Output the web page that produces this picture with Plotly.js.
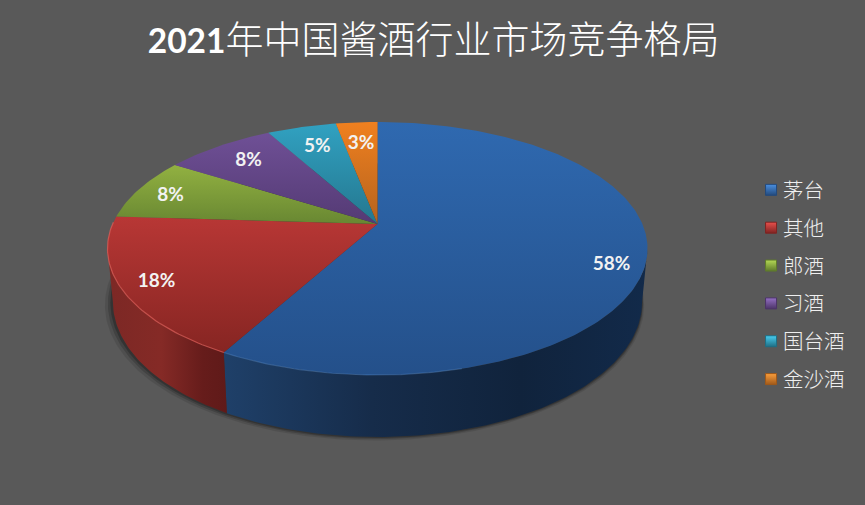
<!DOCTYPE html>
<html>
<head>
<meta charset="utf-8">
<script src="https://cdn.plot.ly/plotly-3.0.1.min.js"></script>
<style>html,body{margin:0;padding:0;background:#595959}#chart{width:865px;height:505px}</style>
</head>
<body>
<div id="chart"></div>
<script>
// ---- data ----
var categories = ['茅台', '其他', '郎酒', '习酒', '国台酒', '金沙酒'];
var shares = [58, 18, 8, 8, 5, 3];
var chartTitle = '<span style="font-size:33.5px;font-family:Lato,sans-serif;font-weight:900"><b>2021</b></span>年中国酱酒行业市场竞争格局';

// ---- styles ----
var faceTop = ['#2f69b0', '#b83735', '#92b141', '#6f5096', '#31a1c1', '#f0801f'];
var faceBottom = ['#24508a', '#862522', '#688732', '#543a74', '#24778f', '#b5631e'];
var swatch = ['#4a8fe0', '#e8504c', '#b4d955', '#9470c4', '#48cdf0', '#fa9e3c'];
var swatchDark = ['#234a7c', '#7f2422', '#5f7a2c', '#4c3468', '#1f6f85', '#a0591a'];
var rimLight = ['rgba(90,145,215,0.35)', 'rgba(225,95,90,0.7)'];
var wallStops = [
  [[0, '#1f4069'], [0.35, '#162c4a'], [0.7, '#10233c'], [1, '#122a4a']],
  [[0, '#7c2825'], [0.45, '#852a26'], [0.8, '#661c1b'], [1, '#5f1a19']]
];

// ---- projection of the tilted disc ----
var cx = 377.5, cy = 224, A = 264.9, B = 121.75, K = 0.1937;
function topPoint(deg, r) {
  var t = deg * Math.PI / 180, u = r * Math.sin(t), v = r * Math.cos(t), d = 1 + K * v;
  return [cx + A * u / d, cy - B * v / d];
}
function basePoint(deg, grow) {
  var t = deg * Math.PI / 180, v = Math.cos(t), p = topPoint(deg, 1), s = 0.98 + (grow || 0);
  return [cx + (p[0] - cx) * s, p[1] + 51 - 11 * v];
}
function arc(fn, a0, a1, arg) {
  var pts = [], n = Math.max(2, Math.ceil(Math.abs(a1 - a0)));
  for (var i = 0; i <= n; i++) pts.push(fn(a0 + (a1 - a0) * i / n, arg));
  return pts;
}
function xs(p) { return p.map(function (q) { return q[0]; }); }
function ys(p) { return p.map(function (q) { return q[1]; }); }

var total = shares.reduce(function (a, b) { return a + b; }, 0), run = 0;
var starts = [], ends = [];
shares.forEach(function (s) { starts.push(run / total * 360); run += s; ends.push(run / total * 360); });

var traces = [];
function mark() { return {type: 'scatter', hoverinfo: 'skip', showlegend: false}; }

// soft shadow under the disc
[[5, 0.10, -3], [3, 0.16, -2], [1.5, 0.22, -1]].forEach(function (o) {
  var p = arc(basePoint, 0, 360, o[0] / 270);
  var t = mark();
  t.x = xs(p).map(function (x) { return x + o[2]; });
  t.y = ys(p).map(function (y) { return y + o[0] * 0.7; });
  t.mode = 'lines'; t.fill = 'toself'; t.line = {width: 0};
  t.fillcolor = 'rgba(0,0,0,' + o[1] + ')';
  traces.push(t);
});

// side walls
var vis0 = Math.acos(-K) * 180 / Math.PI, vis1 = 360 - vis0;
shares.forEach(function (s, i) {
  var a0 = Math.max(starts[i], vis0), a1 = Math.min(ends[i], vis1);
  if (a1 <= a0 || !wallStops[i]) return;
  var p = arc(topPoint, a0, a1, 1).concat(arc(basePoint, a1, a0, 0));
  var t = mark();
  t.x = xs(p); t.y = ys(p); t.mode = 'lines'; t.fill = 'toself'; t.line = {width: 0};
  t.fillcolor = faceBottom[i];
  t.fillgradient = {type: 'horizontal', colorscale: wallStops[i]};
  traces.push(t);
});

// top faces
shares.forEach(function (s, i) {
  var p = [[cx, cy]].concat(arc(topPoint, starts[i], ends[i], 1)).concat([[cx, cy]]);
  var t = mark();
  t.x = xs(p); t.y = ys(p); t.mode = 'lines'; t.fill = 'toself'; t.line = {width: 0};
  t.fillcolor = faceTop[i];
  t.fillgradient = {type: 'vertical', colorscale: [[0, faceBottom[i]], [1, faceTop[i]]]};
  traces.push(t);
});

// light front rim
shares.forEach(function (s, i) {
  var a0 = Math.max(starts[i], 165), a1 = Math.min(ends[i], vis1 + 12);
  if (a1 <= a0 || !rimLight[i]) return;
  var p = arc(topPoint, a0, a1, 1), t = mark();
  t.x = xs(p); t.y = ys(p); t.mode = 'lines';
  t.line = {width: 1.2, color: rimLight[i]};
  traces.push(t);
});

// percentage labels
var labelRadius = [0.888, 0.88, 0.85, 0.79, 0.765, 0.756];
var labelTurn = [6.5, -1, -2, 0, 0, 0];
var lp = shares.map(function (s, i) { return topPoint((starts[i] + ends[i]) / 2 + labelTurn[i], labelRadius[i]); });
var lt = mark();
lt.x = xs(lp); lt.y = ys(lp); lt.mode = 'text';
lt.text = shares.map(function (s) { return '<b>' + s + '%</b>'; });
lt.textposition = 'middle center';
lt.textfont = {family: 'Lato, "Open Sans", sans-serif', size: 19, color: '#f2f2f2'};
traces.push(lt);

// legend entries
categories.forEach(function (c, i) {
  traces.push({
    type: 'scatter', mode: 'markers', name: c, legendgroup: c, hoverinfo: 'skip',
    x: [null], y: [null], showlegend: true,
    marker: {symbol: 'square', size: 11, color: swatch[i],
      gradient: {type: 'vertical', color: swatchDark[i]},
      line: {color: swatchDark[i], width: 1}}
  });
});

var layout = {
  width: 865, height: 505,
  margin: {l: 0, r: 0, t: 0, b: 0},
  paper_bgcolor: '#595959', plot_bgcolor: '#595959',
  title: {text: chartTitle, x: 0.5013, xanchor: 'center', y: 0.922, yanchor: 'middle',
    font: {family: '"Noto Sans CJK SC", sans-serif', size: 38, weight: 300, color: '#ffffff'}},
  xaxis: {visible: false, range: [0, 865], fixedrange: true},
  yaxis: {visible: false, range: [505, 0], fixedrange: true},
  showlegend: true,
  legend: {x: 0.859, xanchor: 'left', y: 0.4366, yanchor: 'middle', tracegroupgap: 8.2,
    bgcolor: 'rgba(0,0,0,0)', traceorder: 'grouped',
    font: {family: '"Noto Sans CJK SC", sans-serif', size: 20.5, weight: 300, color: '#efefef'}},
  hovermode: false
};
Plotly.newPlot('chart', traces, layout, {displayModeBar: false, staticPlot: true}).then(function () {
  document.querySelectorAll('.legend .legendsymbols').forEach(function (n) {
    n.setAttribute('transform', 'translate(8,0)');
  });
});
</script>
</body>
</html>
